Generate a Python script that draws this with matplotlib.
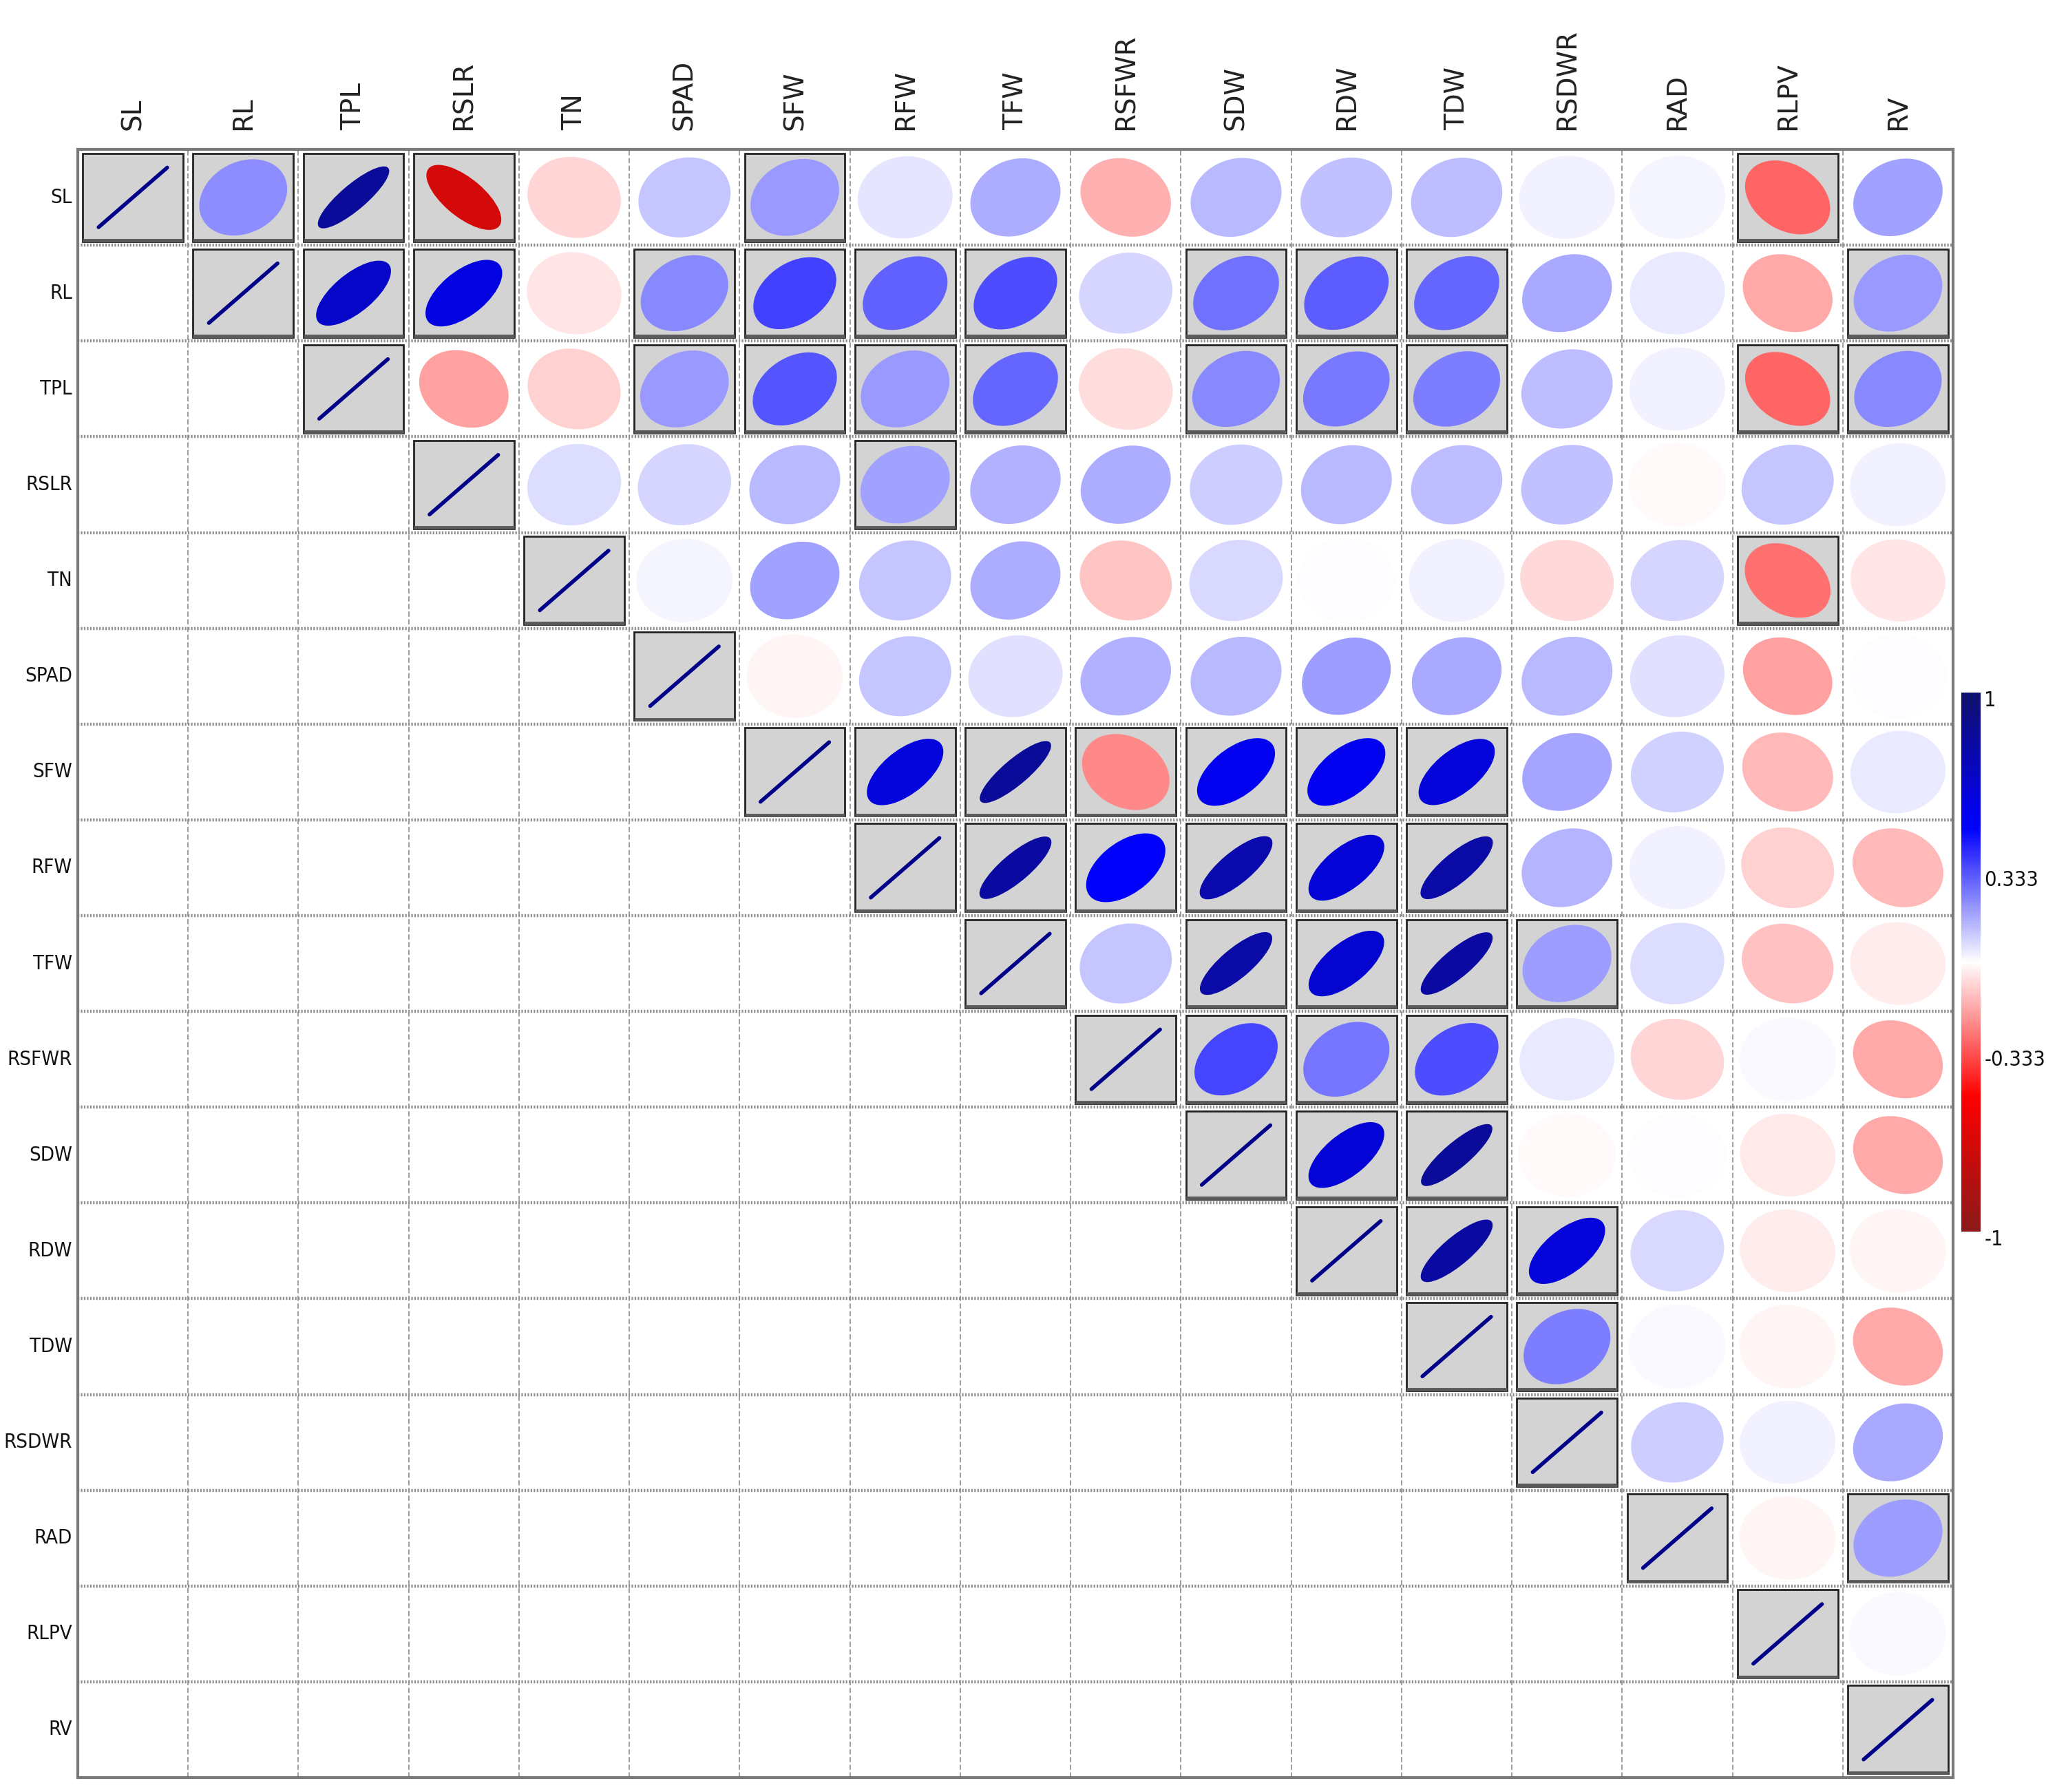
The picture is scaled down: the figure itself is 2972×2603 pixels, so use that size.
import numpy as np
import matplotlib
matplotlib.use('Agg')
import matplotlib.pyplot as plt
from matplotlib import font_manager
from matplotlib.patches import Ellipse, Rectangle
from matplotlib.colors import LinearSegmentedColormap
from matplotlib.transforms import blended_transform_factory

variables = ['SL', 'RL', 'TPL', 'RSLR', 'TN', 'SPAD', 'SFW', 'RFW', 'TFW',
             'RSFWR', 'SDW', 'RDW', 'TDW', 'RSDWR', 'RAD', 'RLPV', 'RV']

# upper-triangle correlations, each row starts right after the diagonal
r_SL = [0.22, 0.85, -0.68, -0.08, 0.11, 0.20, 0.05, 0.16, -0.15, 0.14, 0.12, 0.13, 0.03, 0.02, -0.30, 0.18]
r_RL = [0.68, 0.60, -0.05, 0.23, 0.37, 0.31, 0.35, 0.08, 0.28, 0.32, 0.30, 0.17, 0.045, -0.17, 0.20]
r_TPL = [-0.18, -0.09, 0.20, 0.33, 0.20, 0.30, -0.065, 0.23, 0.26, 0.25, 0.13, 0.03, -0.30, 0.23]
r_RSLR = [0.07, 0.08, 0.14, 0.18, 0.15, 0.16, 0.10, 0.14, 0.13, 0.12, -0.01, 0.11, 0.03]
r_TN = [0.02, 0.18, 0.11, 0.16, -0.11, 0.075, 0.005, 0.03, -0.075, 0.08, -0.28, -0.05]
r_SPAD = [-0.02, 0.11, 0.06, 0.15, 0.14, 0.19, 0.17, 0.14, 0.06, -0.18, 0.005]
r_SFW = [0.61, 0.85, -0.23, 0.55, 0.55, 0.62, 0.175, 0.09, -0.14, 0.045]
r_RFW = [0.82, 0.50, 0.78, 0.64, 0.80, 0.145, 0.03, -0.09, -0.14]
r_TFW = [0.11, 0.80, 0.65, 0.82, 0.19, 0.07, -0.12, -0.035]
r_RSFWR = [0.36, 0.27, 0.35, 0.045, -0.08, 0.015, -0.17]
r_SDW = [0.64, 0.85, -0.01, 0.0, -0.04, -0.17]
r_RDW = [0.82, 0.62, 0.075, -0.035, -0.02]
r_TDW = [0.25, 0.015, -0.02, -0.165]
r_RSDWR = [0.10, 0.03, 0.17]
r_RAD = [-0.02, 0.19]
r_RLPV = [0.015]

upper_rows = [r_SL, r_RL, r_TPL, r_RSLR, r_TN, r_SPAD, r_SFW, r_RFW, r_TFW,
              r_RSFWR, r_SDW, r_RDW, r_TDW, r_RSDWR, r_RAD, r_RLPV]

significant_pairs = [
    ('SL', 'RL'), ('SL', 'TPL'), ('SL', 'RSLR'), ('SL', 'SFW'), ('SL', 'RLPV'),
    ('RL', 'TPL'), ('RL', 'RSLR'), ('RL', 'SPAD'), ('RL', 'SFW'), ('RL', 'RFW'),
    ('RL', 'TFW'), ('RL', 'SDW'), ('RL', 'RDW'), ('RL', 'TDW'), ('RL', 'RV'),
    ('TPL', 'SPAD'), ('TPL', 'SFW'), ('TPL', 'RFW'), ('TPL', 'TFW'), ('TPL', 'SDW'),
    ('TPL', 'RDW'), ('TPL', 'TDW'), ('TPL', 'RLPV'), ('TPL', 'RV'),
    ('RSLR', 'RFW'),
    ('TN', 'RLPV'),
    ('SFW', 'RFW'), ('SFW', 'TFW'), ('SFW', 'RSFWR'), ('SFW', 'SDW'), ('SFW', 'RDW'), ('SFW', 'TDW'),
    ('RFW', 'TFW'), ('RFW', 'RSFWR'), ('RFW', 'SDW'), ('RFW', 'RDW'), ('RFW', 'TDW'),
    ('TFW', 'SDW'), ('TFW', 'RDW'), ('TFW', 'TDW'), ('TFW', 'RSDWR'),
    ('RSFWR', 'SDW'), ('RSFWR', 'RDW'), ('RSFWR', 'TDW'),
    ('SDW', 'RDW'), ('SDW', 'TDW'),
    ('RDW', 'TDW'), ('RDW', 'RSDWR'),
    ('TDW', 'RSDWR'),
    ('RAD', 'RV'),
]

cbar_ticks = [1, 0.333, -0.333, -1]
cbar_ticklabels = ['1', '0.333', '-0.333', '-1']

n = len(variables)
corr = np.eye(n)
for i, row in enumerate(upper_rows):
    for k, v in enumerate(row):
        j = i + 1 + k
        corr[i, j] = v
        corr[j, i] = v
sigset = set(significant_pairs)

# choose a narrow font for the row / colourbar labels
ttf = font_manager.fontManager.ttflist
names = {f.name for f in ttf}
if 'Liberation Sans Narrow' in names:
    lab_font = dict(family=['Liberation Sans Narrow', 'DejaVu Sans'], fontsize=23)
    cb_font = dict(family=['Liberation Sans Narrow', 'DejaVu Sans'], fontsize=23)
elif any(f.name == 'DejaVu Sans' and f.stretch == 'condensed' for f in ttf):
    lab_font = dict(family=['DejaVu Sans'], fontstretch='condensed', fontsize=21)
    cb_font = dict(family=['DejaVu Sans'], fontstretch='condensed', fontsize=22)
else:
    lab_font = dict(family=['Liberation Sans', 'DejaVu Sans'], fontsize=18.5)
    cb_font = dict(family=['Liberation Sans', 'DejaVu Sans'], fontsize=19)

cmap = LinearSegmentedColormap.from_list(
    'rwb', [(0.0, '#8B1A1A'), (0.25, '#FF0000'), (0.5, '#FFFFFF'),
            (0.75, '#0000FF'), (1.0, '#10106E')], N=256)
norm = plt.Normalize(-1, 1)

fig = plt.figure(figsize=(29.72, 26.03), dpi=100)
ax = fig.add_axes([0.0380, 0.00807, 0.9166, 0.9085])
ax.set_xlim(0, n)
ax.set_ylim(0, n)
ax.set_xticks([])
ax.set_yticks([])

for k in range(1, n):
    ax.axvline(k, color='#8c8c8c', lw=1.2, ls=(0, (4.5, 2.2)), zorder=1)
    ax.axhline(k, color='#909090', lw=3.2, ls=(0, (0.5, 0.5)), zorder=1)

D = 0.88
L = D / 2 / np.sqrt(2)
for i in range(n):
    for j in range(i, n):
        xc = j + 0.5
        yc = n - i - 0.5
        r = corr[i, j]
        sig = (i == j) or ((variables[i], variables[j]) in sigset)
        if sig:
            x0 = j + 0.045
            y0 = n - i - 1 + 0.04
            ax.add_patch(Rectangle((x0, y0), 0.91, 0.92, facecolor='#D3D3D3',
                                   edgecolor='#222222', lw=2.0, zorder=2))
            ax.plot([x0, x0 + 0.91], [y0 + 0.012, y0 + 0.012], color='#5a5a5a',
                    lw=3.5, zorder=2.5, solid_capstyle='butt')
        if i == j:
            ax.plot([xc - L, xc + L], [yc - L, yc + L], color='#000088', lw=4,
                    solid_capstyle='round', zorder=3)
        else:
            ratio = np.sqrt((1 - abs(r)) / (1 + abs(r)))
            ang = 45 if r >= 0 else -45
            ax.add_patch(Ellipse((xc, yc), D, D * ratio, angle=ang,
                                 facecolor=cmap(norm(r)), edgecolor='none', zorder=3))

for s in ax.spines.values():
    s.set_color('#7a7a7a')
    s.set_linewidth(3)
    s.set_zorder(5)

tx = blended_transform_factory(ax.transData, ax.transAxes)
for j, v in enumerate(variables):
    ax.text(j + 0.5, 1.0118, v, transform=tx, rotation=90, ha='center', va='bottom',
            fontsize=28, family='DejaVu Sans', color='#222222')

ty = blended_transform_factory(ax.transAxes, ax.transData)
for i, v in enumerate(variables):
    ax.text(-0.003, n - i - 0.5, v, transform=ty, ha='right', va='center',
            color='#111111', **lab_font)

cax = fig.add_axes([0.9586, 0.3127, 0.0094, 0.3008])
grad = np.linspace(-1, 1, 400).reshape(-1, 1)
cax.imshow(grad, aspect='auto', cmap=cmap, norm=norm, origin='lower',
           extent=[0, 1, -1, 1])
cax.set_xlim(0, 1)
cax.set_ylim(-1, 1)
cax.axis('off')
tc = blended_transform_factory(cax.transAxes, cax.transData)
for val, lab in zip(cbar_ticks, cbar_ticklabels):
    cax.text(1.2, val - 0.03, lab, transform=tc, ha='left', va='center',
             color='#111111', **cb_font)

fig.savefig('out.png', dpi=100, facecolor='white')
